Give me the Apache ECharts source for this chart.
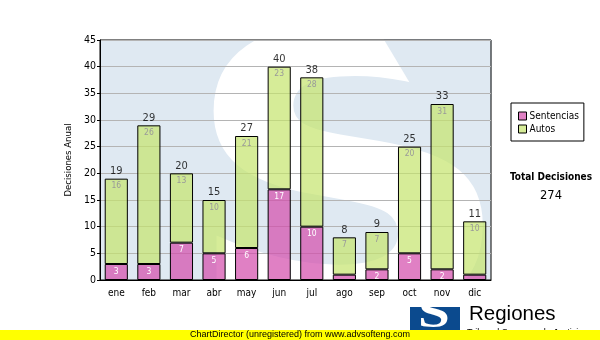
<!DOCTYPE html>
<html><head><meta charset="utf-8">
<script src="https://cdn.jsdelivr.net/npm/echarts@6/dist/echarts.min.js"></script>
<style>html,body{margin:0;padding:0;background:#fff}#c{width:600px;height:340px}</style>
</head><body><div id="c"></div>
<script>
const categories = ['ene','feb','mar','abr','may','jun','jul','ago','sep','oct','nov','dic'];
const sentencias = [3,3,7,5,6,17,10,1,2,5,2,1];
const autos = [16,26,13,10,21,23,28,7,7,20,31,10];
const totals = [19,29,20,15,27,40,38,8,9,25,33,11];
const yTicks = [0,5,10,15,20,25,30,35,40,45];
const grandTotal = totals.reduce((a,b)=>a+b,0);
const FONT = 'DejaVu Sans Condensed';
const BG = '#dfe9f2';

const chart = echarts.init(document.getElementById('c'), null, {renderer:'canvas'});
chart.setOption({
  animation: false,
  textStyle: {fontFamily: FONT},
  grid: {left: 100, top: 40, width: 391, height: 240, show: true, borderColor: '#000', borderWidth: 1, backgroundColor: 'transparent', containLabel: false, z: 1},
  legend: {
    data: ['Sentencias','Autos'], orient: 'vertical', left: 511, top: 103,
    padding: [8, 5, 7, 7], itemGap: 3, z: 6,
    borderColor: '#000', borderWidth: 1, backgroundColor: '#fff',
    itemWidth: 8, itemHeight: 8, icon: 'rect',
    itemStyle: {borderColor: '#000', borderWidth: 1},
    textStyle: {fontFamily: FONT, fontSize: 10, color: '#000', padding: [0,0,0,-2]}
  },
  xAxis: {
    type: 'category', data: categories, z: 1,
    axisLine: {lineStyle: {color: '#000', width: 1}},
    axisTick: {alignWithLabel: true, length: 4, lineStyle: {color: '#000'}},
    axisLabel: {color: '#000', fontSize: 10, fontFamily: FONT, margin: 8}
  },
  yAxis: {
    type: 'value', min: yTicks[0], max: yTicks[yTicks.length-1], interval: 5, z: 1,
    name: 'Decisiones Anual', nameLocation: 'middle', nameGap: 19, nameRotate: 90,
    nameTextStyle: {fontSize: 9.5, fontFamily: FONT, color: '#000'},
    axisLine: {show: true, lineStyle: {color: '#000'}},
    axisTick: {show: true, length: 3, lineStyle: {color: '#000'}},
    axisLabel: {color: '#000', fontSize: 10.5, fontFamily: FONT, margin: 4},
    splitLine: {lineStyle: {color: '#b4b4b4', width: 1}}
  },
  series: [
    {name: 'Sentencias', type: 'bar', stack: 't', data: sentencias, barWidth: '71%', z: 2,
     itemStyle: {color: 'rgba(211,74,171,0.7)', borderColor: '#000', borderWidth: 1},
     label: {show: true, position: 'insideTop', distance: 3, color: '#fff', fontSize: 8.5, fontFamily: FONT,
       formatter: p => p.value >= 2 ? p.value : ''}},
    {name: 'Autos', type: 'bar', stack: 't', data: autos, z: 2,
     itemStyle: {color: 'rgba(196,228,108,0.7)', borderColor: '#000', borderWidth: 1},
     label: {show: true, position: 'insideTop', distance: 3, color: '#999999', fontSize: 8.5, fontFamily: FONT}},
    {name: 'Total', type: 'scatter', data: totals, symbolSize: 0, z: 3,
     label: {show: true, position: 'top', distance: 2, color: '#000', fontSize: 11, fontFamily: FONT}}
  ],
  graphic: [
    {type: 'rect', z: 0, z2: 0, silent: true, shape: {x: 100, y: 40, width: 391, height: 240}, style: {fill: BG}},
    {type: 'text', z: 0, z2: 1, silent: true, x: 180, y: 16, scaleX: 1.2,
     style: {text: 'S', fill: '#ffffff', font: 'bold 390px "DejaVu Sans"'}},
    {type: 'polygon', z: 0, z2: 1.5, silent: true, shape: {points: [[383,38],[492,38],[492,100],[420,100]]}, style: {fill: BG}},
    {type: 'rect', z: 0, z2: 2, silent: true, shape: {x: 0, y: 0, width: 600, height: 39.5}, style: {fill: '#fff'}},
    {type: 'rect', z: 0, z2: 2, silent: true, shape: {x: 491.5, y: 0, width: 109, height: 340}, style: {fill: '#fff'}},
    {type: 'rect', z: 0, z2: 2, silent: true, shape: {x: 0, y: 280.5, width: 600, height: 60}, style: {fill: '#fff'}},
    {type: 'text', z: 5, x: 551, y: 172, style: {text: 'Total Decisiones', fill: '#000', font: 'bold 10px "DejaVu Sans Condensed"', textAlign: 'center'}},
    {type: 'text', z: 5, x: 551, y: 190, style: {text: String(grandTotal), fill: '#000', font: '11.5px "DejaVu Sans"', textAlign: 'center'}},
    {type: 'rect', z: 5, shape: {x: 410, y: 307, width: 50, height: 30}, style: {fill: '#0b4a8e'}},
    {type: 'text', z: 6, x: 418, y: 294, scaleX: 1.3, style: {text: 'S', fill: '#fff', font: 'bold 44px "Liberation Serif"'}},
    {type: 'text', z: 5, x: 469, y: 304, style: {text: 'Regiones', fill: '#000', font: '20.5px "Liberation Sans"'}},
    {type: 'text', z: 5, x: 467, y: 328, style: {text: 'Tribunal Supremo de Justicia', fill: '#000', font: '9px "Liberation Sans"'}},
    {type: 'rect', z: 10, shape: {x: 0, y: 330, width: 600, height: 10}, style: {fill: '#ffff00'}},
    {type: 'text', z: 11, x: 300, y: 330, style: {text: 'ChartDirector (unregistered) from www.advsofteng.com', fill: '#000', font: '9px "Liberation Sans"', textAlign: 'center'}}
  ]
});
</script></body></html>
